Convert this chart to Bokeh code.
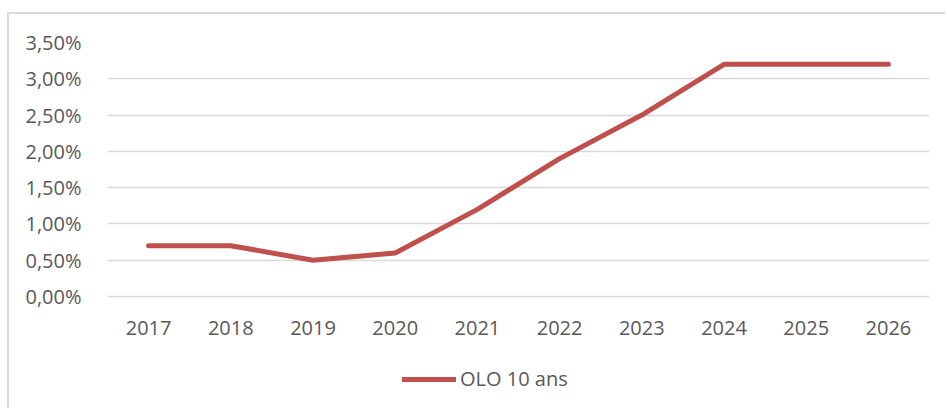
from bokeh.plotting import figure
from bokeh.models import FixedTicker, Legend, LegendItem, Range1d, CategoricalAxis
from bokeh.embed import file_html
from bokeh.resources import INLINE

years = ["2017", "2018", "2019", "2020", "2021", "2022", "2023", "2024", "2025", "2026"]
olo_10 = [0.70, 0.70, 0.50, 0.60, 1.20, 1.90, 2.50, 3.20, 3.20, 3.20]
y_ticks = [0.0, 0.5, 1.0, 1.5, 2.0, 2.5, 3.0, 3.5]
y_labels = ["0,00%", "0,50%", "1,00%", "1,50%", "2,00%", "2,50%", "3,00%", "3,50%"]
series_name = "OLO 10 ans"

FONT = "Open Sans"
TXT = "#595959"
FS = "20px"

# frame runs to the bottom of the canvas; value 0 sits 114 px above it
y_bottom = -114 * 3.5 / 254

p = figure(width=938, height=396, x_range=years, y_range=Range1d(y_bottom, 3.5),
           x_axis_location=None,
           output_backend="svg", toolbar_location=None,
           min_border_left=98, min_border_right=18, min_border_top=28, min_border_bottom=0)
p.styles = {"margin-left": "7px", "margin-top": "12px",
            "border-top": "2px solid #d9d9d9", "border-left": "2px solid #d9d9d9"}
p.outline_line_color = None
p.background_fill_color = "white"
p.border_fill_color = "white"

r = p.line(years, olo_10, line_color="#C0504D", line_width=5, line_cap="round", line_join="round")

xaxis = CategoricalAxis(fixed_location=0)
p.add_layout(xaxis, "below")

p.yaxis.ticker = FixedTicker(ticks=y_ticks)
p.yaxis.major_label_overrides = {t: l for t, l in zip(y_ticks, y_labels)}
for ax in (xaxis, p.yaxis[0]):
    ax.axis_line_color = None
    ax.major_tick_line_color = None
    ax.minor_tick_line_color = None
    ax.major_label_text_font = FONT
    ax.major_label_text_font_size = FS
    ax.major_label_text_color = TXT
p.yaxis.major_label_standoff = 20
xaxis.major_label_standoff = 18

p.xgrid.grid_line_color = None
p.ygrid.grid_line_color = "#d9d9d9"
p.ygrid.grid_line_width = 1.6
p.ygrid.ticker = FixedTicker(ticks=y_ticks)

legend = Legend(items=[LegendItem(label=series_name, renderers=[r])],
                location=(295, 18), orientation="horizontal",
                glyph_width=54, glyph_height=20, label_standoff=4,
                padding=0, margin=0, border_line_color=None, background_fill_alpha=0,
                label_text_font=FONT, label_text_font_size=FS, label_text_color=TXT)
p.add_layout(legend, "center")

open("out.html", "w").write(file_html(p, INLINE))
